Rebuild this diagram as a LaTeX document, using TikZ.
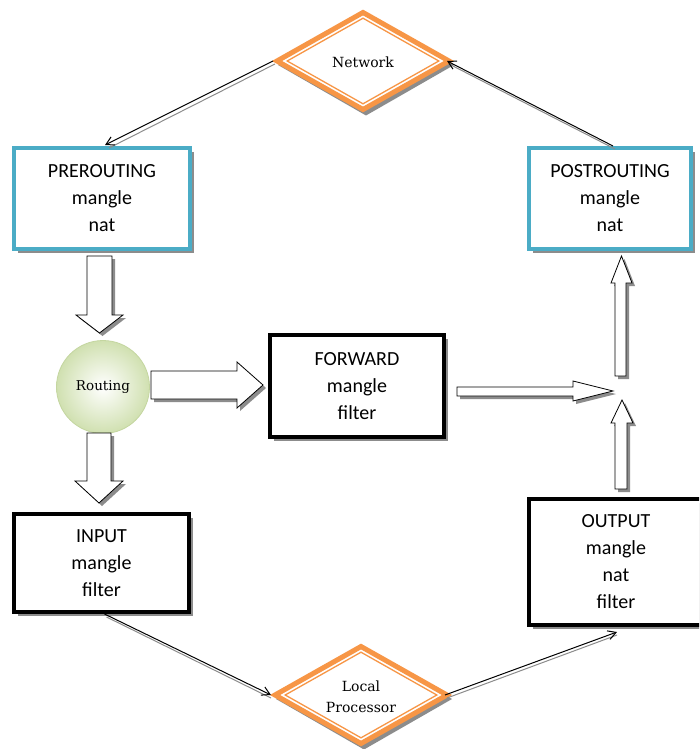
\documentclass[tikz,border=0pt]{standalone}
\usepackage{fontspec}
\newfontfamily\calfont{Carlito}
\newfontfamily\serfont{DejaVu Serif}
\usetikzlibrary{shadows,calc,arrows.meta}
\definecolor{cyanb}{RGB}{75,172,198}
\definecolor{orng}{RGB}{247,150,70}
\definecolor{shd}{RGB}{140,140,140}
\definecolor{rgreen}{RGB}{208,224,176}
\definecolor{rgreenb}{RGB}{196,214,160}
\begin{document}
\begin{tikzpicture}[x=1pt,y=-1pt,
  shdw/.style={drop shadow={shadow xshift=4pt,shadow yshift=-4pt,fill=shd,opacity=1}},
  tblock/.style={align=center,inner sep=0pt,font=\calfont\fontsize{20}{27}\selectfont},
  cbox/.style={tblock,draw=cyanb,line width=4pt,fill=white,shdw},
  kbox/.style={tblock,draw=black,line width=4pt,fill=white,shdw},
  barrow/.style={draw=black,fill=white,line width=0.8pt,line join=miter,
     drop shadow={shadow xshift=3pt,shadow yshift=-3pt,fill=shd,opacity=1}},
  dtext/.style={align=center,inner sep=0pt,font=\serfont\fontsize{14}{21}\selectfont},
  link/.style={black,line width=1pt,-{Straight Barb[length=8pt,width=9pt]}},
  linkshd/.style={shd,line width=1pt},
  dia/.pic={
    \fill[shd] (-88+3,4) -- (3,-50.5+4) -- (88+3,4) -- (3,50.5+4) -- cycle;
    \draw[orng,line width=5pt,fill=white,line join=miter] (-86,0) -- (0,-48.5) -- (86,0) -- (0,48.5) -- cycle;
    \draw[orng,line width=1.3pt,line join=miter] (-75.8,0) -- (0,-42.8) -- (75.8,0) -- (0,42.8) -- cycle;
    \coordinate (-w) at (-90,0);
    \coordinate (-e) at (-2+86,0);
  }]
\path[use as bounding box,clip] (0,0) rectangle (699,749);
\fill[white] (0,0) rectangle (699,749);

% diamonds
\pic (net) at (363,61) {dia};
\node[dtext] (nettxt) at (363,62) {Network};
\pic (loc) at (361,695) {dia};
\node[dtext] (loctxt) at (361,697) {Local\\Processor};

% boxes
\node[cbox,minimum width=176pt,minimum height=101pt] (pre) at (102,198.5) {PREROUTING\\mangle\\nat};
\node[cbox,minimum width=162pt,minimum height=101pt] (post) at (610,198.5) {POSTROUTING\\mangle\\nat};
\node[kbox,minimum width=174pt,minimum height=102pt] (fwd) at (357,386) {FORWARD\\mangle\\filter};
\node[kbox,minimum width=175pt,minimum height=98pt] (inp) at (101.5,563) {INPUT\\mangle\\filter};
\node[kbox,minimum width=174pt,minimum height=126pt] (out) at (616,562) {OUTPUT\\mangle\\nat\\filter};

% routing circle
\node[circle,minimum size=93pt,inner sep=0pt,draw=rgreenb,line width=0.8pt,
      inner color=white,outer color=rgreen,font=\serfont\fontsize{13.5}{16}\selectfont] (rt) at (103,387) {Routing};

% block arrows
\draw[barrow] (87,256) -- (112,256) -- (112,315) -- (123,315) -- (99.5,333) -- (76,315) -- (87,315) -- cycle;
\draw[barrow] (87,433) -- (111,433) -- (111,481) -- (123,481) -- (99,503) -- (75,481) -- (87,481) -- cycle;
\draw[barrow] (151,371) -- (237,371) -- (237,362) -- (263,385) -- (237,408) -- (237,399) -- (151,399) -- cycle;
\draw[barrow] (457,387) -- (573,387) -- (573,381) -- (613,391) -- (573,401) -- (573,396) -- (457,396) -- cycle;
\draw[barrow] (615,376) -- (615,283) -- (611,283) -- (621.5,256) -- (632,283) -- (626,283) -- (626,376) -- cycle;
\draw[barrow] (615,489) -- (615,423) -- (611,423) -- (622,400) -- (633,423) -- (627,423) -- (627,489) -- cycle;

% thin connectors
\coordinate (preT) at ($(pre.north)+(3,-1)$);
\coordinate (postT) at ($(post.north)+(3,0)$);
\coordinate (inpB) at ($(inp.south)+(3,0)$);
\coordinate (outB) at ($(out.south)+(1,5)$);
\draw[linkshd] ($(net-w)+(2,3)$) -- ($(preT)+(4,3)$);
\draw[link] (net-w) -- (preT);
\draw[linkshd] ($(postT)+(2,3)$) -- ($(net-e)+(2,3)$);
\draw[link] (postT) -- (net-e);
\draw[linkshd] ($(inpB)+(2,3)$) -- ($(loc-w)+(0,3)$);
\draw[link] (inpB) -- (loc-w);
\draw[linkshd] ($(loc-e)+(2,3)$) -- ($(outB)+(0,3)$);
\draw[link] (loc-e) -- (outB);
\end{tikzpicture}
\end{document}
